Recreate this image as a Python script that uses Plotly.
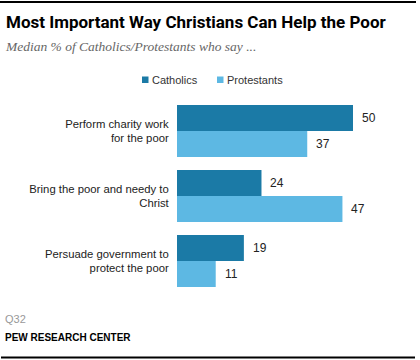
import plotly.graph_objects as go

categories = ["Perform charity work<br>for the poor",
              "Bring the poor and needy to<br>Christ",
              "Persuade government to<br>protect the poor"]
catholics = [50, 24, 19]
protestants = [37, 47, 11]
series_names = ["Catholics", "Protestants"]
colors = ["#1B7AA6", "#5DB8E3"]

W, H = 420, 360
# plot area in pixels
pl, pw = 177, 211.2
pt, ph = 98.5, 195

fig = go.Figure()
for name, vals, col in zip(series_names, [catholics, protestants], colors):
    fig.add_trace(go.Bar(y=categories, x=vals, orientation="h", name=name,
                         marker=dict(color=col, line=dict(width=0)),
                         showlegend=False, hoverinfo="skip"))

annotations = []
# value labels
for i, (c, p) in enumerate(zip(catholics, protestants)):
    for val, off in [(c, -0.2), (p, 0.2)]:
        annotations.append(dict(x=val, y=i + off, xref="x", yref="y", text=str(val),
                                showarrow=False, xanchor="left", xshift=7,
                                font=dict(family="Liberation Sans, Arial", size=12, color="#222")))

def px(x):
    return x / W

def py(y):
    return 1 - y / H

# top rule drawn as a filled annotation box (fallback for the shape)
annotations.append(dict(x=px(0), y=py(0.5), xref="paper", yref="paper", xanchor="left", yanchor="top",
                        text=" ", showarrow=False, width=416, height=2, bgcolor="#000",
                        borderpad=0, borderwidth=0, font=dict(size=1)))
# title / subtitle
annotations.append(dict(x=px(4), y=py(22), xref="paper", yref="paper", xanchor="left", yanchor="middle",
                        text="<b>Most Important Way Christians Can Help the Poor</b>", showarrow=False,
                        font=dict(family="Roboto, Liberation Sans, Arial", size=17, color="#000")))
annotations.append(dict(x=px(3), y=py(46), xref="paper", yref="paper", xanchor="left", yanchor="middle",
                        text="<i>Median % of Catholics/Protestants who say ...</i>", showarrow=False,
                        font=dict(family="Liberation Serif, Georgia, serif", size=13.5, color="#666")))
# legend
for name, col, x0 in zip(series_names, colors, [142, 217]):
    annotations.append(dict(x=px(x0 + 8), y=py(80), xref="paper", yref="paper", xanchor="left",
                            yanchor="middle", text=name, showarrow=False,
                            font=dict(family="Liberation Sans, Arial", size=11, color="#333")))
# footer
annotations.append(dict(x=px(3), y=py(319), xref="paper", yref="paper", xanchor="left", yanchor="middle",
                        text="Q32", showarrow=False,
                        font=dict(family="Liberation Sans, Arial", size=11, color="#999")))
annotations.append(dict(x=px(3), y=py(337), xref="paper", yref="paper", xanchor="left", yanchor="middle",
                        text="<b>PEW RESEARCH CENTER</b>", showarrow=False,
                        font=dict(family="Liberation Sans, Arial", size=10, color="#000")))

shapes = []
for col, x0 in zip(colors, [142, 217]):
    shapes.append(dict(type="rect", xref="paper", yref="paper", x0=px(x0), x1=px(x0 + 6.5),
                       y0=py(76.5), y1=py(83), fillcolor=col, line=dict(width=0)))
# top and bottom rules
shapes.append(dict(type="rect", xref="paper", yref="paper", x0=px(0.5), x1=px(416), y0=py(3), y1=py(1),
                   fillcolor="#000", line=dict(width=0)))
shapes.append(dict(type="rect", xref="paper", yref="paper", x0=px(1), x1=px(415), y0=py(358.5), y1=py(356.5),
                   fillcolor="#000", line=dict(width=0)))

fig.update_layout(
    width=W, height=H,
    margin=dict(l=0, r=0, t=0, b=0),
    paper_bgcolor="white", plot_bgcolor="white",
    barmode="group", bargap=0.2, bargroupgap=0,
    xaxis=dict(domain=[pl / W, (pl + pw) / W], range=[0, 60], visible=False, fixedrange=True),
    yaxis=dict(domain=[1 - (pt + ph) / H, 1 - pt / H], autorange="reversed",
               showgrid=False, zeroline=False, showline=False,
               ticks="outside", ticklen=5, tickcolor="rgba(0,0,0,0)",
               tickfont=dict(family="Liberation Sans, Arial", size=11.3, color="#222"),
               automargin=False, fixedrange=True),
    annotations=annotations, shapes=shapes,
    showlegend=False,
)

fig.write_html("out.html", config={"displayModeBar": False},
               post_script=("document.documentElement.style.margin='0';"
                            "document.body.style.margin='0';document.body.style.padding='0';"
                            "var d=document.getElementsByClassName('plotly-graph-div')[0];"
                            "if(d){d.style.position='absolute';d.style.top='0';d.style.left='0';}"
                            "document.body.style.overflow='hidden';"
                            "document.documentElement.style.overflow='hidden';"))
